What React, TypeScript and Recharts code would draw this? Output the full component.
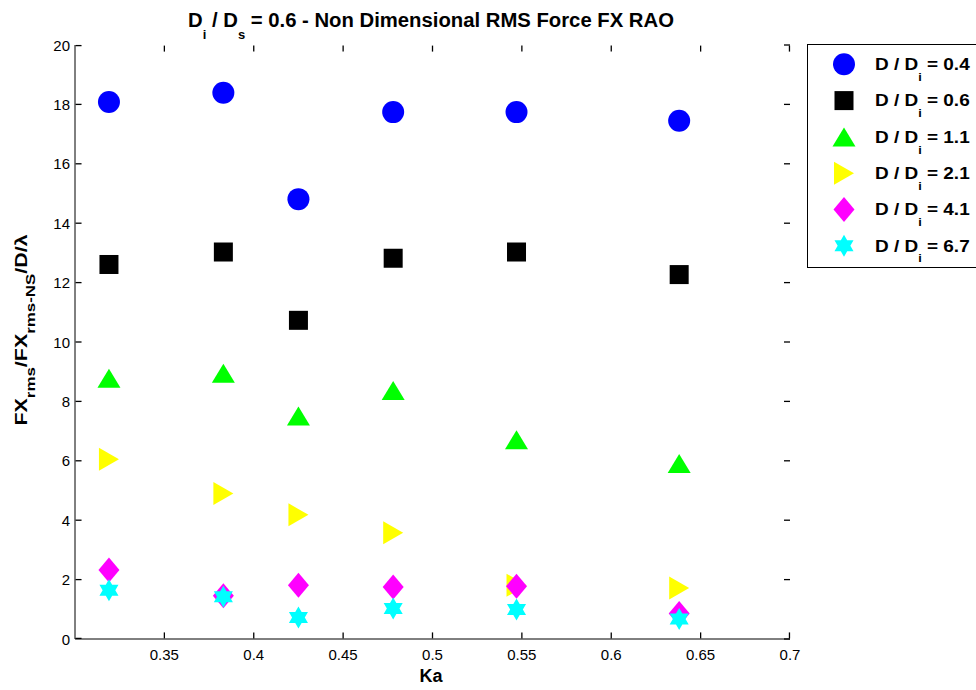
import React from "react";
import { ScatterChart, Scatter, XAxis, YAxis, Legend } from "recharts";

// Ka values shared by every diameter ratio
const KA = [0.319, 0.383, 0.425, 0.478, 0.547, 0.638];

// non dimensional RMS force FX, one list per D / Di ratio
const FX_D04 = [18.08, 18.39, 14.81, 17.74, 17.74, 17.45];
const FX_D06 = [12.61, 13.03, 10.73, 12.82, 13.03, 12.27];
const FX_D11 = [8.78, 8.95, 7.51, 8.37, 6.71, 5.91];
const FX_D21 = [6.05, 4.9, 4.18, 3.58, 1.81, 1.72];
const FX_D41 = [2.32, 1.46, 1.81, 1.75, 1.78, 0.86];
const FX_D67 = [1.64, 1.42, 0.72, 1.03, 0.99, 0.67];

const RATIO_LABELS = ["0.4", "0.6", "1.1", "2.1", "4.1", "6.7"];

const X_TICKS = [0.35, 0.4, 0.45, 0.5, 0.55, 0.6, 0.65, 0.7];
const Y_TICKS = [0, 2, 4, 6, 8, 10, 12, 14, 16, 18, 20];

const X_DOMAIN: [number, number] = [0.3, 0.7];
const Y_DOMAIN: [number, number] = [0, 20];

type MarkerKind = "circle" | "square" | "triUp" | "triRight" | "diamond" | "hexagram";

const SERIES: { ratio: string; color: string; marker: MarkerKind; values: number[] }[] = [
  { ratio: RATIO_LABELS[0], color: "#0000ff", marker: "circle", values: FX_D04 },
  { ratio: RATIO_LABELS[1], color: "#000000", marker: "square", values: FX_D06 },
  { ratio: RATIO_LABELS[2], color: "#00ff00", marker: "triUp", values: FX_D11 },
  { ratio: RATIO_LABELS[3], color: "#ffff00", marker: "triRight", values: FX_D21 },
  { ratio: RATIO_LABELS[4], color: "#ff00ff", marker: "diamond", values: FX_D41 },
  { ratio: RATIO_LABELS[5], color: "#00ffff", marker: "hexagram", values: FX_D67 },
];

const FONT = "'Liberation Sans', Arial, Helvetica, sans-serif";
const TICK_LEN = 6;
// anchor tick glyphs a hair inside the box edges
const EPS_X = 0.0003;
const EPS_Y = 0.02;

// inward tick marks on the four sides of the box, drawn as tiny scatter glyphs
const TICK_MARKS: { data: { ka: number; fx: number }[]; dx: number; dy: number }[] = [
  { data: X_TICKS.map((t) => ({ ka: Math.min(t, X_DOMAIN[1] - EPS_X), fx: Y_DOMAIN[0] + EPS_Y })), dx: 0, dy: -TICK_LEN },
  { data: X_TICKS.map((t) => ({ ka: Math.min(t, X_DOMAIN[1] - EPS_X), fx: Y_DOMAIN[1] - EPS_Y })), dx: 0, dy: TICK_LEN },
  { data: Y_TICKS.map((t) => ({ ka: X_DOMAIN[0] + EPS_X, fx: Math.min(Math.max(t, EPS_Y), Y_DOMAIN[1] - EPS_Y) })), dx: TICK_LEN, dy: 0 },
  { data: Y_TICKS.map((t) => ({ ka: X_DOMAIN[1], fx: t })), dx: -TICK_LEN, dy: 0 },
];

function hexagramPoints(cx: number, cy: number, r: number) {
  const inner = r / Math.sqrt(3);
  const pts: string[] = [];
  for (let k = 0; k < 12; k++) {
    const rad = k % 2 === 0 ? r : inner;
    const a = (-90 + k * 30) * (Math.PI / 180);
    pts.push(`${cx + rad * Math.cos(a)},${cy + rad * Math.sin(a)}`);
  }
  return pts.join(" ");
}

function Marker({ kind, cx, cy, color }: { kind: MarkerKind; cx: number; cy: number; color: string }) {
  switch (kind) {
    case "circle":
      return <circle cx={cx} cy={cy} r={11} fill={color} />;
    case "square":
      return <rect x={cx - 9.5} y={cy - 9.5} width={19} height={19} fill={color} />;
    case "triUp":
      return (
        <polygon
          points={`${cx},${cy - 9.5} ${cx + 11.5},${cy + 9.5} ${cx - 11.5},${cy + 9.5}`}
          fill={color}
        />
      );
    case "triRight":
      return (
        <polygon
          points={`${cx + 10},${cy} ${cx - 10},${cy - 11.5} ${cx - 10},${cy + 11.5}`}
          fill={color}
        />
      );
    case "diamond":
      return (
        <polygon
          points={`${cx},${cy - 12.5} ${cx + 10.5},${cy} ${cx},${cy + 12.5} ${cx - 10.5},${cy}`}
          fill={color}
        />
      );
    default:
      return <polygon points={hexagramPoints(cx, cy, 11)} fill={color} />;
  }
}

// tick labels only; with tickSize/tickMargin 0 the renderer gets the axis-line position
const BottomLabel = (p: any) => (
  <text x={p.x} y={Number(p.y) + 21} textAnchor="middle" fontFamily={FONT} fontSize={15} fill="#000">
    {String(p.payload.value)}
  </text>
);

const LeftLabel = (p: any) => (
  <text x={Number(p.x) - 5} y={Number(p.y) + 5.5} textAnchor="end" fontFamily={FONT} fontSize={15} fill="#000">
    {String(p.payload.value)}
  </text>
);

function LegendBox() {
  return (
    <svg width={169} height={224} style={{ display: "block" }}>
      <rect x={0.5} y={0.5} width={200} height={223} fill="#ffffff" stroke="#000000" />
      {SERIES.map((s, i) => {
        const y = 20.3 + i * 36.3;
        return (
          <g key={s.ratio}>
            <Marker kind={s.marker} cx={37} cy={y} color={s.color} />
            <text
              transform={`translate(68, ${y + 5.7}) scale(1.15, 1)`}
              fontFamily={FONT}
              fontWeight="bold"
              fontSize={16.5}
              fill="#000"
            >
              D / D
              <tspan dy={11} fontSize={11}>
                i
              </tspan>
              <tspan dy={-11}> = {s.ratio}</tspan>
            </text>
          </g>
        );
      })}
    </svg>
  );
}

export default function App() {
  return (
    <div style={{ position: "absolute", left: 0, top: 0, width: 976, height: 690, overflow: "hidden", background: "#fff" }}>
      <ScatterChart width={976} height={690} margin={{ top: 45, right: 186, bottom: 0, left: 0 }}>
        <XAxis
          type="number"
          dataKey="ka"
          domain={X_DOMAIN}
          ticks={X_TICKS}
          height={51}
          tickSize={0}
          tickMargin={0}
          tickLine={false}
          stroke="#000"
          tick={BottomLabel}
        />
        <XAxis
          xAxisId="top"
          orientation="top"
          type="number"
          domain={X_DOMAIN}
          height={0}
          tick={false}
          tickLine={false}
          stroke="#000"
        />
        <YAxis
          type="number"
          dataKey="fx"
          domain={Y_DOMAIN}
          ticks={Y_TICKS}
          width={75}
          tickSize={0}
          tickMargin={0}
          tickLine={false}
          stroke="#000"
          tick={LeftLabel}
        />
        <YAxis
          yAxisId="right"
          orientation="right"
          type="number"
          domain={Y_DOMAIN}
          width={0}
          tick={false}
          tickLine={false}
          stroke="#000"
        />
        {TICK_MARKS.map((m, i) => (
          <Scatter
            key={`ticks-${i}`}
            data={m.data}
            legendType="none"
            isAnimationActive={false}
            shape={(p: any) => (
              <line x1={p.cx} y1={p.cy} x2={p.cx + m.dx} y2={p.cy + m.dy} stroke="#000" strokeWidth={1.3} />
            )}
          />
        ))}
        {SERIES.map((s) => (
          <Scatter
            key={s.ratio}
            name={`D / Di = ${s.ratio}`}
            data={KA.map((ka, i) => ({ ka, fx: s.values[i] }))}
            isAnimationActive={false}
            shape={(p: any) => <Marker kind={s.marker} cx={p.cx} cy={p.cy} color={s.color} />}
          />
        ))}
        <Legend
          layout="vertical"
          align="center"
          verticalAlign="middle"
          wrapperStyle={{ left: 807, top: 44, width: 169, height: 224 }}
          content={() => <LegendBox />}
        />
        <text x={431} y={27} textAnchor="middle" fontFamily={FONT} fontWeight="bold" fontSize={20.3} fill="#000">
          D
          <tspan dy={12} fontSize={13}>
            i
          </tspan>
          <tspan dy={-12}> / D</tspan>
          <tspan dy={12} fontSize={13}>
            s
          </tspan>
          <tspan dy={-12}> = 0.6 - Non Dimensional RMS Force FX RAO</tspan>
        </text>
        <text x={431} y={682} textAnchor="middle" fontFamily={FONT} fontWeight="bold" fontSize={18} fill="#000">
          Ka
        </text>
        <text
          transform="translate(27, 330) rotate(-90) scale(1.3, 1)"
          textAnchor="middle"
          fontFamily={FONT}
          fontWeight="bold"
          fontSize={16.5}
          fill="#000"
        >
          FX
          <tspan dy={8} fontSize={13}>
            rms
          </tspan>
          <tspan dy={-8}>/FX</tspan>
          <tspan dy={8} fontSize={13}>
            rms-NS
          </tspan>
          <tspan dy={-8}>/D/λ</tspan>
        </text>
      </ScatterChart>
    </div>
  );
}
